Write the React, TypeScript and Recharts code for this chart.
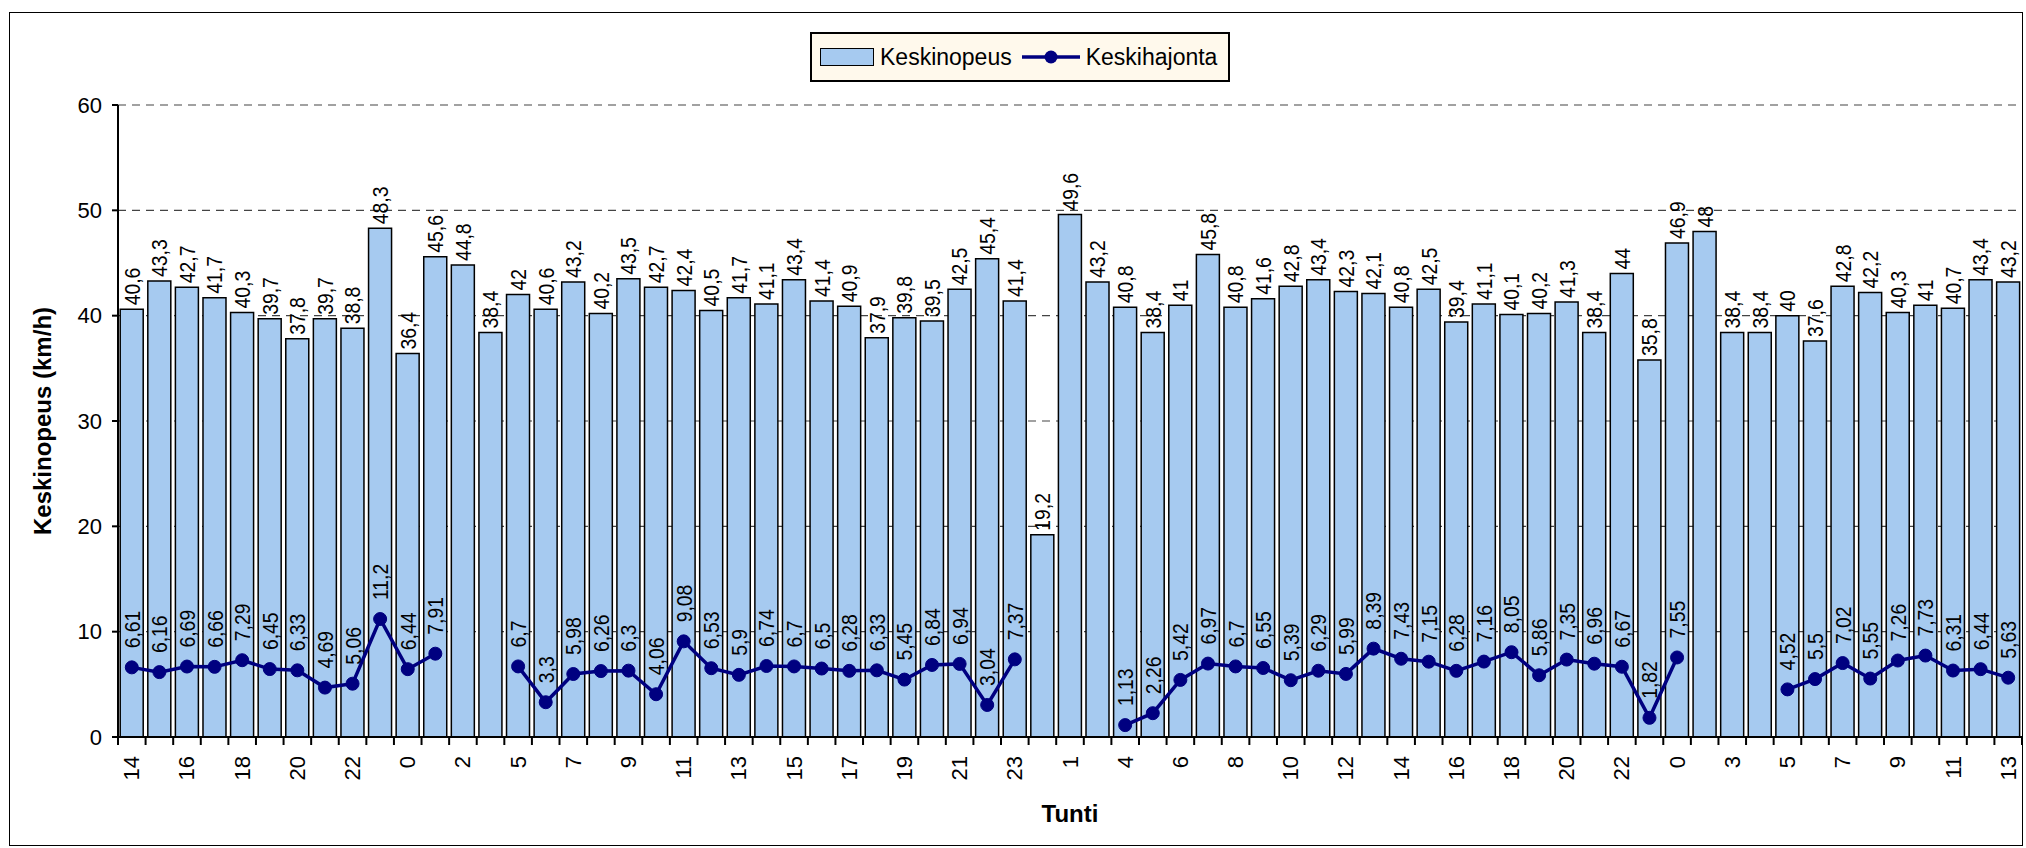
import React from "react";
import {
  ComposedChart,
  Bar,
  Line,
  XAxis,
  YAxis,
  CartesianGrid,
  LabelList,
} from "recharts";

// tunnit (x-akseli), joka toinen näytetään
const HOURS = [
  "14", "15", "16", "17", "18", "19", "20", "21", "22", "23", "0", "1", "2", "4",
  "5", "6", "7", "8", "9", "10", "11", "12", "13", "14", "15", "16", "17", "18",
  "19", "20", "21", "22", "23", "0", "1", "3", "4", "5", "6", "7", "8", "9", "10",
  "11", "12", "13", "14", "15", "16", "17", "18", "19", "20", "21", "22", "23",
  "0", "1", "3", "4", "5", "6", "7", "8", "9", "10", "11", "12", "13",
];

const KESKINOPEUS = [
  40.6, 43.3, 42.7, 41.7, 40.3, 39.7, 37.8, 39.7, 38.8, 48.3, 36.4, 45.6, 44.8, 38.4,
  42, 40.6, 43.2, 40.2, 43.5, 42.7, 42.4, 40.5, 41.7, 41.1, 43.4, 41.4, 40.9, 37.9,
  39.8, 39.5, 42.5, 45.4, 41.4, 19.2, 49.6, 43.2, 40.8, 38.4, 41, 45.8, 40.8, 41.6,
  42.8, 43.4, 42.3, 42.1, 40.8, 42.5, 39.4, 41.1, 40.1, 40.2, 41.3, 38.4, 44, 35.8,
  46.9, 48, 38.4, 38.4, 40, 37.6, 42.8, 42.2, 40.3, 41, 40.7, 43.4, 43.2,
];

const KESKIHAJONTA = [
  6.61, 6.16, 6.69, 6.66, 7.29, 6.45, 6.33, 4.69, 5.06, 11.2, 6.44, 7.91, null, null,
  6.7, 3.3, 5.98, 6.26, 6.3, 4.06, 9.08, 6.53, 5.9, 6.74, 6.7, 6.5, 6.28, 6.33,
  5.45, 6.84, 6.94, 3.04, 7.37, null, null, null, 1.13, 2.26, 5.42, 6.97, 6.7, 6.55,
  5.39, 6.29, 5.99, 8.39, 7.43, 7.15, 6.28, 7.16, 8.05, 5.86, 7.35, 6.96, 6.67, 1.82,
  7.55, null, null, null, 4.52, 5.5, 7.02, 5.55, 7.26, 7.73, 6.31, 6.44, 5.63,
];

const Y_TICKS = [0, 10, 20, 30, 40, 50, 60];

const W = 2026;
const H = 848;
const Y_AXIS_W = 118;
const X_AXIS_H = 111;
const TOP = 105;
const RIGHT = 4;
const BAND = (W - Y_AXIS_W - RIGHT) / HOURS.length;

const FONT = '"Liberation Sans", Arial, sans-serif';
const BAR_FILL = "#A6CAF0";
const LINE_COLOR = "#000080";

const data = HOURS.map((hour, i) => ({
  hour,
  speed: KESKINOPEUS[i],
  sd: KESKIHAJONTA[i],
}));

const fmt = (v: number) => String(v).replace(".", ",");

const XTick = ({ x, y, payload, index }: any) => {
  const axisY = y - 19;
  const left = x - BAND / 2;
  return (
    <g>
      <line x1={left} x2={left} y1={axisY} y2={axisY + 8} stroke="#000" strokeWidth={2} />
      {index === HOURS.length - 1 && (
        <line x1={x + BAND / 2} x2={x + BAND / 2} y1={axisY} y2={axisY + 8} stroke="#000" strokeWidth={2} />
      )}
      {index % 2 === 0 && (
        <text
          x={x}
          y={y}
          transform={`rotate(-90 ${x} ${y})`}
          textAnchor="end"
          dominantBaseline="central"
          fontSize={22}
          fontFamily={FONT}
          fill="#000"
        >
          {payload.value}
        </text>
      )}
    </g>
  );
};

// pystyyn käännetty, hieman kavennettu arvoteksti
const rotatedLabel = (cx: number, cy: number, value: number) => (
  <text
    x={0}
    y={0}
    transform={`translate(${cx} ${cy}) rotate(-90) scale(0.88 1)`}
    textAnchor="start"
    dominantBaseline="central"
    fontSize={22}
    fontFamily={FONT}
    fill="#000"
  >
    {fmt(value)}
  </text>
);

const BarLabel = (props: any) => {
  if (props.value == null) return null;
  const vb = props.viewBox ?? props;
  const x = vb.x ?? props.x;
  const y = vb.y ?? props.y;
  const width = vb.width ?? props.width;
  return rotatedLabel(x + width / 2, y - 4, props.value);
};

const LineLabel = (props: any) => {
  if (props.value == null) return null;
  const vb = props.viewBox ?? props;
  const x = vb.x ?? props.x;
  const y = vb.y ?? props.y;
  return rotatedLabel(x, y - 19, props.value);
};

const YTitle = ({ viewBox }: any) => {
  const cx = 42;
  const cy = viewBox ? viewBox.y + viewBox.height / 2 : 421;
  return (
    <text
      x={cx}
      y={cy}
      transform={`rotate(-90 ${cx} ${cy})`}
      textAnchor="middle"
      dominantBaseline="central"
      fontSize={24}
      fontWeight="bold"
      fontFamily={FONT}
      fill="#000"
    >
      Keskinopeus (km/h)
    </text>
  );
};

const XTitle = ({ viewBox }: any) => {
  const cx = viewBox ? viewBox.x + viewBox.width / 2 : 1070;
  const cy = viewBox ? viewBox.y + 76 : 813;
  return (
    <text
      x={cx}
      y={cy}
      textAnchor="middle"
      dominantBaseline="central"
      fontSize={24}
      fontWeight="bold"
      fontFamily={FONT}
      fill="#000"
    >
      Tunti
    </text>
  );
};

const LegendBox = () => (
  <div
    style={{
      position: "absolute",
      left: 810,
      top: 32,
      width: 420,
      height: 50,
      boxSizing: "border-box",
      border: "2px solid #000",
      background: "#FFF9EC",
      display: "flex",
      alignItems: "center",
      fontFamily: FONT,
      fontSize: 23,
      color: "#000",
    }}
  >
    <span
      style={{
        display: "inline-block",
        width: 54,
        height: 18,
        marginLeft: 8,
        boxSizing: "border-box",
        border: "1.5px solid #000",
        background: BAR_FILL,
      }}
    />
    <span style={{ marginLeft: 6 }}>Keskinopeus</span>
    <svg width={58} height={20} style={{ marginLeft: 10 }}>
      <line x1={0} x2={58} y1={10} y2={10} stroke={LINE_COLOR} strokeWidth={3.5} />
      <circle cx={29} cy={10} r={6.5} fill={LINE_COLOR} />
    </svg>
    <span style={{ marginLeft: 6 }}>Keskihajonta</span>
  </div>
);

export default function App() {
  return (
    <div style={{ position: "absolute", left: 0, top: 0, width: W, height: H, background: "#fff" }}>
      <div
        style={{
          position: "absolute",
          left: 9,
          top: 12,
          width: 2014,
          height: 834,
          boxSizing: "border-box",
          border: "1.5px solid #000",
        }}
      />
      <div style={{ position: "absolute", left: 0, top: 0 }}>
        <ComposedChart
          width={W}
          height={H}
          data={data}
          margin={{ top: TOP, right: RIGHT, left: 0, bottom: 0 }}
          barCategoryGap="8%"
        >
          <CartesianGrid
            vertical={false}
            stroke="#444"
            strokeWidth={1.2}
            strokeDasharray="8 6"
          />
          <XAxis
            dataKey="hour"
            interval={0}
            height={X_AXIS_H}
            tickLine={false}
            tickSize={8}
            tickMargin={11}
            axisLine={{ stroke: "#000", strokeWidth: 2 }}
            tick={<XTick />}
            label={<XTitle />}
          />
          <YAxis
            domain={[0, 60]}
            ticks={Y_TICKS}
            width={Y_AXIS_W}
            tickSize={6}
            tickMargin={10}
            axisLine={{ stroke: "#000", strokeWidth: 2 }}
            tickLine={{ stroke: "#000", strokeWidth: 2 }}
            tick={{ fontSize: 22, fontFamily: FONT, fill: "#000" }}
            label={<YTitle />}
          />
          <Bar
            dataKey="speed"
            fill={BAR_FILL}
            stroke="#000"
            strokeWidth={1.5}
            isAnimationActive={false}
          >
            <LabelList dataKey="speed" content={<BarLabel />} />
          </Bar>
          <Line
            dataKey="sd"
            stroke={LINE_COLOR}
            strokeWidth={3.5}
            dot={{ r: 6.5, fill: LINE_COLOR, stroke: LINE_COLOR, strokeWidth: 1 }}
            activeDot={false}
            isAnimationActive={false}
          >
            <LabelList dataKey="sd" content={<LineLabel />} />
          </Line>
        </ComposedChart>
      </div>
      <LegendBox />
    </div>
  );
}
